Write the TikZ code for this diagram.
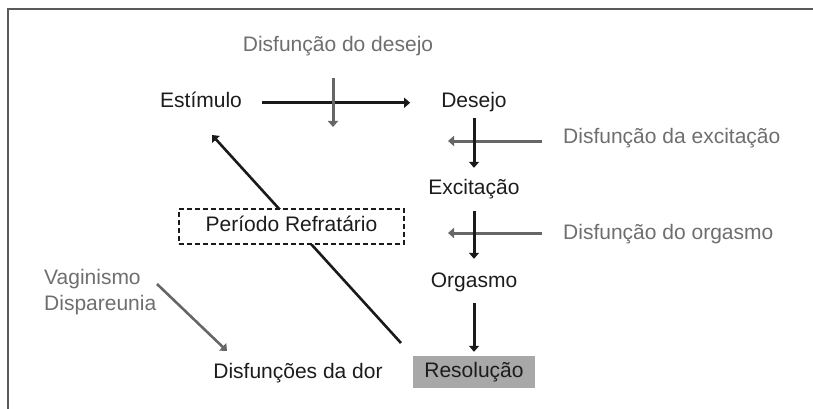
\documentclass[tikz,border=0pt]{standalone}
\usepackage{fontspec}
\setmainfont{Liberation Sans}
\usetikzlibrary{arrows.meta,calc}
\definecolor{txtblack}{HTML}{1C1C1C}
\definecolor{txtgray}{HTML}{6E6E6E}
\definecolor{arrblack}{HTML}{1A1A1A}
\definecolor{arrgray}{HTML}{666666}
\definecolor{resgray}{HTML}{A8A8A8}
\definecolor{framegray}{HTML}{5A5A5A}
\tikzset{
  lbl/.style={font=\fontsize{21}{25}\selectfont, text=txtblack, inner sep=0pt,
              text height=15pt, text depth=4.5pt, anchor=base},
  glbl/.style={lbl, text=txtgray},
  tip/.style={-{Triangle[length=6pt,width=10pt]}},
  blk/.style={draw=arrblack, line width=3pt, tip},
  blkthin/.style={draw=arrblack, line width=2.6pt, tip},
  gry/.style={draw=arrgray, line width=3pt, tip},
  grythin/.style={draw=arrgray, line width=2.6pt, tip},
  refbox/.style={lbl, draw=arrblack, dashed, dash pattern=on 5pt off 3pt,
                 line width=1.1pt, fill=white, anchor=center,
                 minimum width=225pt, minimum height=35pt},
  resbox/.style={lbl, fill=resgray, anchor=center,
                 minimum width=122pt, minimum height=32pt},
  frameline/.style={draw=framegray, line width=2pt}
}
\begin{document}
\begin{tikzpicture}[x=1pt,y=-1pt]
\useasboundingbox (0,0) rectangle (813,409);
% frame
\coordinate (fa) at (813,9);
\coordinate (fb) at (8,9);
\coordinate (fc) at (8,409);
\draw[frameline] (fa) -- (fb) -- (fc);

% text nodes
\node[glbl] (dd) at (338,52) {Disfunção do desejo};
\node[lbl] (est) at (201,108) {Estímulo};
\node[lbl] (des) at (474,108) {Desejo};
\node[glbl, anchor=base west] (dexc) at (563,143) {Disfunção da excitação};
\node[lbl] (exc) at (474,194) {Excitação};
\node[glbl, anchor=base west] (dorg) at (563,239) {Disfunção do orgasmo};
\node[lbl] (org) at (474,287) {Orgasmo};
\node[glbl, anchor=base west] (vag) at (44,284) {Vaginismo};
\node[glbl, anchor=base west] (disp) at (44,310) {Dispareunia};
\node[lbl] (dor) at (298,378) {Disfunções da dor};
\node[resbox] (res) at (474,372) {Resolução};

% connector end points
\coordinate (ddtop) at (333,78);
\coordinate (ddtip) at (333,127);
\coordinate (gx1) at (542,141);
\coordinate (gx1tip) at (448,141);
\coordinate (gx2) at (542,233);
\coordinate (gx2tip) at (448,233);
\coordinate (dstart) at (401,343);
\coordinate (dtip) at (212,135);
\coordinate (vstart) at (157,284);
\coordinate (vtip) at (227,351);

% diagonal return arrow (behind the refractory box)
\draw[blkthin] (dstart) -- (dtip);
\node[refbox] (ref) at (291.5,226.5) {Período Refratário\hspace{11pt}};

% main flow
\draw[blk] ($(est.east)+(20,0)$) -- ($(des.west)+(-31,0)$);
\draw[gry] (ddtop) -- (ddtip);

\draw[gry] (gx1) -- (gx1tip);
\draw[blk] ($(des.south)+(0,5.5)$) -- ($(exc.north)+(0,-11)$);

\draw[gry] (gx2) -- (gx2tip);
\draw[blk] ($(exc.south)+(0,12.5)$) -- ($(org.north)+(0,-13)$);

\draw[blk] ($(org.south)+(0,11.5)$) -- ($(res.north)+(0,-4)$);

% pain dysfunction arrow
\draw[grythin] (vstart) -- (vtip);
\end{tikzpicture}
\end{document}
